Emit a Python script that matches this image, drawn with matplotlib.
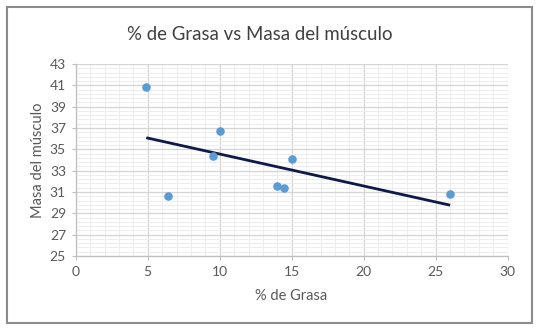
import numpy as np
import matplotlib
matplotlib.use("Agg")
import matplotlib.pyplot as plt
from matplotlib.patches import Rectangle
from matplotlib.ticker import MultipleLocator, FixedLocator

# Body-fat percentage vs muscle mass
grasa = [4.9, 6.4, 9.5, 10.0, 14.0, 14.45, 15.0, 26.0]
musculo = [40.85, 30.65, 34.35, 36.75, 31.55, 31.4, 34.05, 30.8]

title = "% de Grasa vs Masa del músculo"
xlabel = "% de Grasa"
ylabel = "Masa del músculo"
xticks = [0, 5, 10, 15, 20, 25, 30]
yticks = [25, 27, 29, 31, 33, 35, 37, 39, 41, 43]

plt.rcParams["font.family"] = ["Lato", "DejaVu Sans"]

fig = plt.figure(figsize=(5.42, 3.33), dpi=100)
fig.patch.set_facecolor("white")

# outer chart frame
fig.patches.append(Rectangle((7 / 542, 1 - 323 / 333), 525 / 542, 316 / 333,
                             transform=fig.transFigure, fill=False,
                             edgecolor="#8c8c8c", linewidth=1.5))

ax = fig.add_axes([75.7 / 542, 1 - 256 / 333, 432 / 542, 192 / 333])
ax.set_xlim(xticks[0], xticks[-1])
ax.set_ylim(yticks[0], yticks[-1])
ax.xaxis.set_major_locator(FixedLocator(xticks))
ax.xaxis.set_minor_locator(MultipleLocator(1))
ax.yaxis.set_major_locator(FixedLocator(yticks))
ax.yaxis.set_minor_locator(FixedLocator(np.linspace(yticks[0], yticks[-1], 46)))

ax.grid(which="minor", color="#ededed", linewidth=0.7)
ax.grid(which="major", color="#d4d4d4", linewidth=0.9)
ax.set_axisbelow(True)

for side in ["top", "right"]:
    ax.spines[side].set_visible(False)
for side in ["left", "bottom"]:
    ax.spines[side].set_color("#bfbfbf")
    ax.spines[side].set_linewidth(0.9)

ax.tick_params(which="major", length=3, color="#bfbfbf", labelsize=10,
               labelcolor="#595959", pad=4)
ax.tick_params(which="minor", length=0)

ax.scatter(grasa, musculo, s=38, color="#5b9bd5", zorder=3, linewidths=0)

# linear trend line over the data range
slope, intercept = np.polyfit(grasa, musculo, 1)
xt = np.array([min(grasa), max(grasa)])
ax.plot(xt, slope * xt + intercept, color="#0d1a4a", linewidth=2.0, zorder=2,
        solid_capstyle="butt")

fig.text(260 / 542, 1 - 35 / 333, title, ha="center", va="center",
         fontsize=13.4, color="#404040")
fig.text(291 / 542, 1 - 296 / 333, xlabel, ha="center", va="center",
         fontsize=10.5, color="#595959")
fig.text(38 / 542, 1 - 160 / 333, ylabel, ha="center", va="center",
         fontsize=10.5, color="#595959", rotation=90)

fig.savefig("out.png", dpi=100, facecolor="white")
